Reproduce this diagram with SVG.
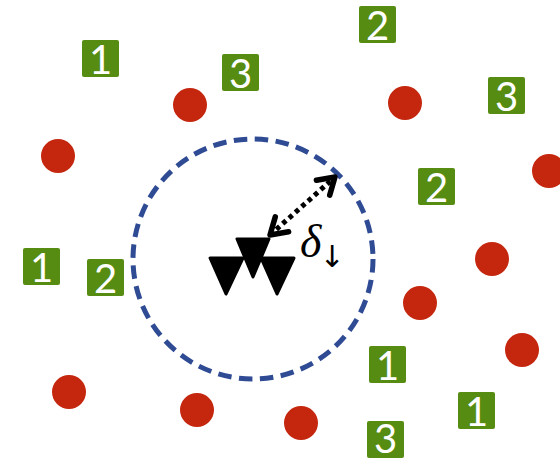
<svg xmlns="http://www.w3.org/2000/svg" width="560" height="461" viewBox="0 0 560 461">
<style>
.box{fill:#578C12}
.num{fill:#fff;font-family:Lato,"Open Sans",sans-serif;font-size:40px;text-anchor:middle}
.dot{fill:#C4260E}
.tri{fill:#000;stroke:#000;stroke-width:3;stroke-linejoin:round}
</style>
<defs>
<marker id="chev" markerUnits="userSpaceOnUse" markerWidth="30" markerHeight="30" refX="0" refY="0" viewBox="-20 -15 30 30" orient="auto-start-reverse" overflow="visible">
<path d="M-16 -10 L0 0 L-16 10" fill="none" stroke="#000" stroke-width="5.5" stroke-linecap="round" stroke-linejoin="round"/>
</marker>
</defs>
<rect width="560" height="461" fill="#fff"/>
<g id="range">
<circle cx="253" cy="259" r="120" fill="none" stroke="#2F4B94" stroke-width="5" stroke-dasharray="13.5 7.5"/>
</g>
<g id="b1"><rect class="box" x="82" y="40" width="37" height="37" rx="2"/><text class="num" x="100.5" y="74">1</text></g>
<g id="b2"><rect class="box" x="222" y="54" width="37" height="37" rx="2"/><text class="num" x="240.5" y="88">3</text></g>
<g id="b3"><rect class="box" x="359" y="6" width="37" height="37" rx="2"/><text class="num" x="377.5" y="40">2</text></g>
<g id="b4"><rect class="box" x="488" y="77" width="37" height="37" rx="2"/><text class="num" x="506.5" y="111">3</text></g>
<g id="b5"><rect class="box" x="418" y="168" width="37" height="37" rx="2"/><text class="num" x="436.5" y="202">2</text></g>
<g id="b6"><rect class="box" x="23" y="248" width="37" height="37" rx="2"/><text class="num" x="41.5" y="282">1</text></g>
<g id="b7"><rect class="box" x="87" y="259" width="37" height="37" rx="2"/><text class="num" x="105.5" y="293">2</text></g>
<g id="b8"><rect class="box" x="369" y="346" width="37" height="37" rx="2"/><text class="num" x="387.5" y="380">1</text></g>
<g id="b9"><rect class="box" x="458" y="392" width="37" height="37" rx="2"/><text class="num" x="476.5" y="426">1</text></g>
<g id="b10"><rect class="box" x="367" y="421" width="37" height="37" rx="2"/><text class="num" x="385.5" y="453">3</text></g>
<g id="r1"><circle class="dot" cx="58" cy="156" r="17"/></g>
<g id="r2"><circle class="dot" cx="190" cy="105" r="17"/></g>
<g id="r3"><circle class="dot" cx="405" cy="103" r="17"/></g>
<g id="r4"><circle class="dot" cx="549" cy="171" r="17"/></g>
<g id="r5"><circle class="dot" cx="492" cy="259" r="17"/></g>
<g id="r6"><circle class="dot" cx="420" cy="303" r="17"/></g>
<g id="r7"><circle class="dot" cx="522" cy="350" r="17"/></g>
<g id="r8"><circle class="dot" cx="69" cy="392" r="17"/></g>
<g id="r9"><circle class="dot" cx="197" cy="410" r="17"/></g>
<g id="r10"><circle class="dot" cx="301" cy="423" r="17"/></g>
<g id="sensor">
<polygon class="tri" points="210,258 243,258 226,294"/>
<polygon class="tri" points="261,258 294,258 277,294"/>
<polygon class="tri" points="237,239 269,239 253,277"/>
</g>
<g id="connectors">
<line x1="270" y1="235" x2="335" y2="177" stroke="#000" stroke-width="5" stroke-dasharray="4.5 4" marker-start="url(#chev)" marker-end="url(#chev)"/>
</g>
<g id="label">
<text x="300" y="257" font-family="'Liberation Serif',serif" font-style="italic" font-size="46">δ<tspan dx="-2" dy="10" font-family="'DejaVu Sans',sans-serif" font-style="normal" font-size="30">↓</tspan></text>
</g>
</svg>
